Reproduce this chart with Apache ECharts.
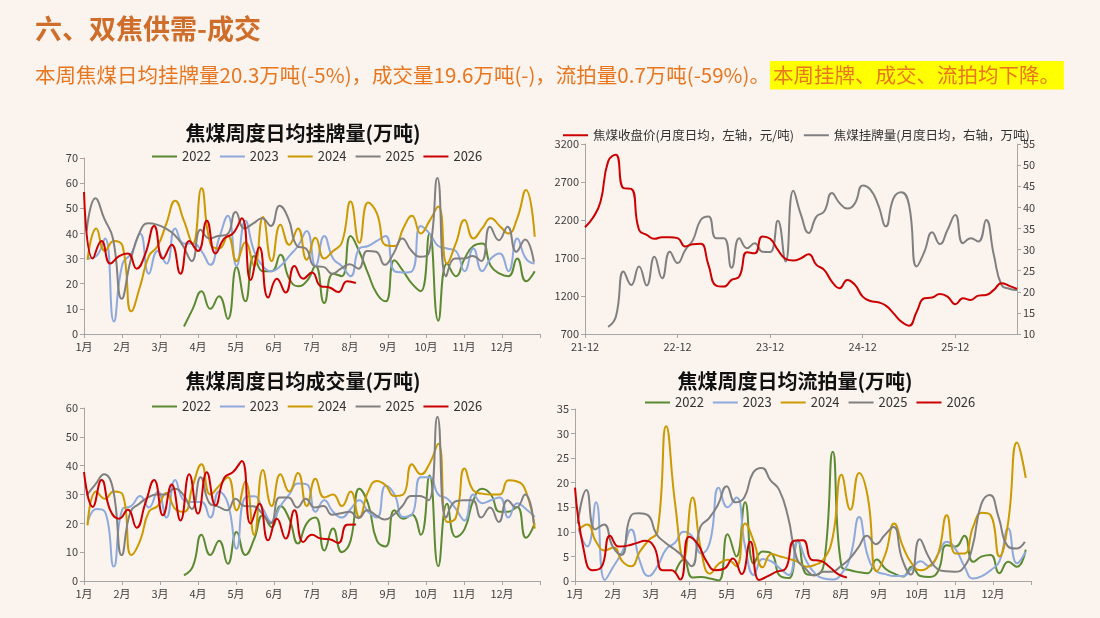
<!DOCTYPE html>
<html>
<head>
<meta charset="utf-8">
<script src="https://cdn.jsdelivr.net/npm/echarts@6/dist/echarts.min.js"></script>
<style>
  html, body { margin: 0; padding: 0; background: #FAF3EE; }
  #main { width: 1100px; height: 618px; }
</style>
</head>
<body>
<div id="main"></div>
<script>
// 年份与月份标签
var years = ['2022', '2023', '2024', '2025', '2026'];
var yearColors = ['#5B8A32', '#8EA9DB', '#CC9900', '#808080', '#CC0000'];
var weekOffset = [0.4, 0.4, 0.4, 0.3, 0];
var monthLabels = ['1月', '2月', '3月', '4月', '5月', '6月', '7月', '8月', '9月', '10月', '11月', '12月'];

// 周度日均挂牌量(万吨)
var listing2022 = [null, null, null, null, null, null, null, null, null, null, null,
  3, 10, 17, 10, 15, 6, 26.5, 13, 31, 25, 25, 31.5, 22, 19, 21, 27, 12.3, 24, 23, 39,
  32.7, 24, 16, 13, 29.3, 25, 20, 17, 40, 5.3, 28, 23, 30, 35, 36, 27, 24, 23, 30, 21, 25];
var listing2023 = [30, 31, 38, 5, 28, 32, 40, 24, 33, 28, 42, 36, 36, 33, 27.5, 38, 47, 27, 45, 33,
  27, 25, 27, 31, 35, 41, 27, 39, 30, 27, 23, 34, 35, 37, 39, 25, 24.5, 25, 43, 40,
  35, 34, 33, 25, 34, 25, 30, 32, 25, 38, 30, 28];
var listing2024 = [29.5, 42, 33, 37, 35, 9, 19, 31, 35, 44, 53, 45, 36, 58, 36, 34, 39, 29, 36.5, 27,
  46.5, 29, 43.5, 35.5, 42, 29.5, 38.3, 30, 33, 36.3, 52.7, 36.3, 52.3, 48, 35.3, 35, 42, 47, 40, 45,
  50.7, 28, 36, 45.3, 38, 42, 46, 43, 40, 46, 57.3, 38.7];
var listing2025 = [41, 54, 46, 38, 14, 29, 40, 44, 43.5, 42, 39.5, 35, 29, 41.5, 38, 39, 39.5, 48.5, 42, 44,
  46, 43, 51, 46, 35, 34, 27, 26.7, 24, 26, 27.7, 26, 33, 32.7, 27.5, 32, 38, 33.3, 30.7, 32,
  62, 23, 30, 30, 31, 29, 42.7, 37.3, 42.7, 32.7, 37.6, 28.7];
var listing2026 = [56.5, 30, 37, 28, 31, 32, 26, 32, 43, 30, 35.5, 24, 37, 33, 45, 32, 38, 40, 46, 21.5,
  34.5, 14.5, 22, 16.5, 27, 22, 24.5, 19, 18.5, 16.7, 21, 20.3];

// 周度日均成交量(万吨)
var deal2022 = [null, null, null, null, null, null, null, null, null, null, null,
  2, 5, 16, 9, 14, 6, 17, 9, 14.5, 22.8, 18.7, 26, 21.6, 13, 20, 22, 10.6, 18.2, 10, 14,
  32, 26.8, 14, 12, 24.5, 21.6, 23, 16, 36.6, 5.1, 26.8, 15.3, 18, 28, 32, 30, 24, 24, 25.7, 15, 20];
var deal2023 = [20, 25, 24, 5, 25, 26, 29.5, 25.5, 31, 22, 35, 28, 27.4, 27.4, 22, 31, 27, 11.2, 29, 29.4,
  25, 20.5, 26, 30, 33.8, 33.5, 24, 28, 24, 22, 25, 28, 24, 22, 33, 30, 22.2, 23, 36, 36,
  30, 28.6, 25, 21, 30, 27, 28, 29, 22, 27, 25, 22.2];
var deal2024 = [19.3, 31, 28.5, 31, 30, 9, 14, 24, 26, 30.5, 25, 24, 33, 40.5, 30, 33, 36, 24.5, 34.5, 16,
  38.5, 26, 37, 31, 37.5, 26, 35.5, 29, 30, 26, 31, 22.2, 31, 34.7, 33.2, 29.5, 30, 40.5, 37, 40.7,
  47.6, 20.5, 22, 39, 31.4, 30.3, 30, 30, 34.9, 34.5, 31, 18.2];
var deal2025 = [29.7, 33.5, 37, 32, 9, 24, 26.8, 29, 30, 30, 32, 30, 25, 36, 27, 25.8, 24.5, 28.5, 26, 25.9,
  23.5, 20, 29, 29, 25.5, 28.5, 25.5, 26, 23, 23.5, 24, 21.8, 24.5, 22.8, 21.3, 23, 26, 29.5, 29.5, 28,
  57, 22, 27.5, 28, 28, 22, 25.5, 20.5, 28, 25.5, 30, 20];
var deal2026 = [37.8, 25.7, 35, 24.5, 21.6, 24.7, 18.5, 27, 35, 22.8, 33.5, 21, 37, 23.4, 37.7, 26.2, 35.8, 37.8, 41.6, 19.9,
  26.8, 14.1, 21.6, 14.7, 24.5, 13.5, 16, 14.7, 14.5, 13.2, 19.5, 19.6];

// 周度日均流拍量(万吨)
var unsold2022 = [null, null, null, null, null, null, null, null, null, null, null,
  1.6, 4.4, 0.7, 0.8, 0.5, 0.1, 9.5, 5, 16, 3.5, 6, 5.6, 1, 0.6, 8.3, 1.4, 1.2, 3.6, 26.3, 2.9,
  2.2, 1.8, 1.6, 4.4, 2.5, 1.5, 0.9, 2.9, 1, 0.8, 2, 7.3, 7, 9.2, 3.9, 5, 5.3, 1.6, 3.9, 2.9, 6.4];
var unsold2023 = [10.5, 7, 16, 0.2, 3, 6, 10.5, 4, 1, 3, 6.5, 7.8, 10, 9, 5.6, 8, 19, 15, 17, 7,
  1.2, 4.5, 4, 2.5, 1.2, 8, 4, 1.5, 0.5, 0.3, 1.5, 5, 13, 5, 2, 1.4, 1, 1, 2.5, 4,
  3, 5.5, 8, 6.5, 3, 0.5, 1, 2.2, 4, 10.7, 3.6, 6];
var unsold2024 = [10.5, 11.5, 8, 6.2, 6.8, 4, 3, 6, 8.3, 10, 31.5, 16, 4.5, 17, 6, 1.5, 3.5, 4.3, 3, 11.7,
  8, 2.8, 5.5, 5, 4.5, 3.9, 2.9, 3.3, 4.5, 9, 21.6, 14.5, 22, 17, 2, 5.5, 11.7, 7, 3.6, 2.2,
  3, 5.5, 13.4, 5.6, 5.6, 11, 13.9, 13.4, 5, 12, 28.2, 21];
var unsold2025 = [11.7, 18.5, 10.5, 11.5, 7, 5.3, 13, 13.8, 13.4, 9.5, 7.8, 6.5, 5, 3, 11, 12.8, 15.5, 19.3, 16, 17,
  22, 23, 20.5, 18.5, 13, 4.5, 2.5, 1.1, 1.9, 1.9, 3, 4.5, 6.8, 9.2, 7.5, 9.3, 11, 4.5, 1.3, 8.5,
  5, 2.5, 2, 1.9, 2.7, 6.8, 15.5, 17.5, 13, 7.2, 6.6, 8];
var unsold2026 = [19, 6.3, 2.2, 2.8, 9.2, 7, 7.2, 7.7, 8.2, 7, 2.2, 2.2, 0.3, 9, 7.5, 4, 2.2, 2.5, 4.6, 1.4,
  8, 0.2, 1, 1.9, 2.5, 8.2, 8.3, 4.3, 4.1, 2.9, 1.4, 0.7];

// 月度: 21-12 起
var monthTickLabels = ['21-12', '22-12', '23-12', '24-12', '25-12'];
var priceMonthly = [2106, 2225, 2436, 2972, 3060, 2620, 2611, 2071, 2005, 1952,
  1974, 1974, 1961, 1851, 1882, 1886, 1610, 1337, 1324, 1412,
  1456, 1776, 1763, 1983, 1952, 1807, 1689, 1667, 1697, 1750,
  1610, 1544, 1390, 1302, 1412, 1346, 1192, 1135, 1117, 1073,
  972, 863, 810, 994, 1170, 1179, 1227, 1192, 1091, 1170,
  1148, 1205, 1214, 1280, 1368, 1333, 1293];
var listingMonthly = [null, null, null, 11.7, 14.1, 24.8, 21.6, 26, 21.5, 28.3,
  23.2, 29.5, 26.8, 29.9, 32.3, 37, 37.8, 32.7, 32.7, 25.7,
  32.7, 30.3, 31.5, 29.5, 29.4, 36.8, 27.2, 43.9, 38.2, 33.9,
  37.8, 39, 43.4, 41, 39.7, 41, 45.2, 44.2, 40.6, 35.5,
  42.2, 43.6, 40.6, 26, 29.5, 34.1, 31.3, 34.7, 38.2, 31.5,
  32.7, 31.9, 37, 28.7, 21.6, 20.7, 20.4];

var FONT = 'Noto Sans CJK SC';
var myChart = echarts.init(document.getElementById('main'));

function toPoints(arr, offset) {
  var res = [];
  for (var i = 0; i < arr.length; i++) {
    if (arr[i] != null) res.push([i + offset, arr[i]]);
  }
  return res;
}

var monthTicks = [];
for (var m = 0; m <= 12; m++) monthTicks.push(m * 52 / 12);

var axisLineStyle = { lineStyle: { color: '#A6A6A6', width: 1 } };
var axisTickStyle = { show: true, length: 4, lineStyle: { color: '#A6A6A6' } };

function weekAxis(gi) {
  return {
    type: 'value', gridIndex: gi, min: 0, max: 52,
    axisLine: axisLineStyle,
    axisTick: { show: true, length: 4, lineStyle: { color: '#A6A6A6' }, customValues: monthTicks },
    axisLabel: {
      color: '#404040', fontSize: 11, margin: 7, fontFamily: FONT,
      customValues: monthTicks.slice(0, 12),
      formatter: function (v) { return monthLabels[Math.round(v * 12 / 52)]; }
    },
    splitLine: { show: false }
  };
}

function valueAxis(gi, min, max, interval, pos) {
  return {
    type: 'value', gridIndex: gi, min: min, max: max, interval: interval,
    position: pos || 'left',
    axisLine: { show: true, lineStyle: { color: '#A6A6A6', width: 1 } },
    axisTick: axisTickStyle,
    axisLabel: { color: '#404040', fontSize: 11, margin: 6, fontFamily: FONT,
      formatter: function (v) { return String(v); } },
    splitLine: { show: false }
  };
}

var series = [];
var groups = [
  [listing2022, listing2023, listing2024, listing2025, listing2026],
  [deal2022, deal2023, deal2024, deal2025, deal2026],
  [unsold2022, unsold2023, unsold2024, unsold2025, unsold2026]
];
var axisIdx = [[0, 0], [2, 3], [3, 4]];
groups.forEach(function (g, gi) {
  g.forEach(function (arr, k) {
    series.push({
      name: years[k], type: 'line', smooth: 0.5, showSymbol: false,
      xAxisIndex: axisIdx[gi][0], yAxisIndex: axisIdx[gi][1],
      data: toPoints(arr, weekOffset[k]),
      lineStyle: { color: yearColors[k], width: 2 },
      itemStyle: { color: yearColors[k] },
      z: 2 + k
    });
  });
});

var priceName = '焦煤收盘价(月度日均，左轴，元/吨)';
var listName = '焦煤挂牌量(月度日均，右轴，万吨)';
series.push({
  name: priceName, type: 'line', smooth: 0.5, showSymbol: false,
  xAxisIndex: 1, yAxisIndex: 1, data: toPoints(priceMonthly, 0),
  lineStyle: { color: '#CC0000', width: 2 }, itemStyle: { color: '#CC0000' }, z: 5
});
series.push({
  name: listName, type: 'line', smooth: 0.5, showSymbol: false,
  xAxisIndex: 1, yAxisIndex: 2, data: toPoints(listingMonthly, 0),
  lineStyle: { color: '#808080', width: 2 }, itemStyle: { color: '#808080' }, z: 4
});

function yearLegend(left, top) {
  return {
    data: years, left: left, top: top, icon: 'rect', itemWidth: 25, itemHeight: 2, itemGap: 9,
    textStyle: { color: '#333', fontSize: 13, fontFamily: FONT }
  };
}

function chartTitle(text, x, y) {
  return {
    type: 'text', x: x, y: y,
    style: { text: text, textAlign: 'center', textVerticalAlign: 'middle',
      font: 'bold 20px "' + FONT + '"', fill: '#111' }
  };
}

var option = {
  backgroundColor: '#FAF3EE',
  textStyle: { fontFamily: FONT },
  animation: false,
  title: [
    {
      text: '六、双焦供需-成交', left: 30, top: 10,
      textStyle: { color: '#CF6D2A', fontSize: 27, fontWeight: 'bold', fontFamily: FONT }
    },
    {
      text: '{a|本周焦煤日均挂牌量20.3万吨(-5%)，成交量19.6万吨(-)，流拍量0.7万吨(-59%)。}{b|本周挂牌、成交、流拍均下降。}',
      left: 30, top: 56,
      textStyle: {
        fontWeight: 'normal',
        rich: {
          a: { color: '#E8761F', fontSize: 20.5, fontWeight: 'normal', fontFamily: FONT, padding: [4, 0, 4, 0] },
          b: { color: '#E8761F', fontSize: 20.5, fontWeight: 'normal', fontFamily: FONT, backgroundColor: '#FFFF00', padding: [4, 4, 4, 3] }
        }
      }
    }
  ],
  graphic: [
    chartTitle('焦煤周度日均挂牌量(万吨)', 303, 133),
    chartTitle('焦煤周度日均成交量(万吨)', 303, 381),
    chartTitle('焦煤周度日均流拍量(万吨)', 795, 381)
  ],
  legend: [
    yearLegend(147, 145),
    {
      data: [priceName, listName], left: 558, top: 124, icon: 'rect', itemWidth: 25, itemHeight: 2, itemGap: 10,
      textStyle: { color: '#333', fontSize: 12.5, fontFamily: FONT }
    },
    yearLegend(147, 395),
    yearLegend(640, 391)
  ],
  grid: [
    { left: 84, width: 456, top: 158, height: 176 },
    { left: 585, width: 432, top: 144, height: 190 },
    { left: 84, width: 456, top: 408, height: 173 },
    { left: 575, width: 456, top: 409, height: 172 }
  ],
  xAxis: [
    weekAxis(0),
    {
      type: 'value', gridIndex: 1, min: 0, max: 56,
      axisLine: axisLineStyle,
      axisTick: { show: true, length: 4, lineStyle: { color: '#A6A6A6' }, customValues: [0, 12, 24, 36, 48] },
      axisLabel: {
        color: '#404040', fontSize: 11, margin: 7, fontFamily: FONT,
        customValues: [0, 12, 24, 36, 48],
        formatter: function (v) { return monthTickLabels[Math.round(v / 12)]; }
      },
      splitLine: { show: false }
    },
    weekAxis(2),
    weekAxis(3)
  ],
  yAxis: [
    valueAxis(0, 0, 70, 10),
    valueAxis(1, 700, 3200, 500),
    valueAxis(1, 10, 55, 5, 'right'),
    valueAxis(2, 0, 60, 10),
    valueAxis(3, 0, 35, 5)
  ],
  series: series
};

myChart.setOption(option);
window.addEventListener('resize', function () {
  myChart.resize();
});
</script>
</body>
</html>
